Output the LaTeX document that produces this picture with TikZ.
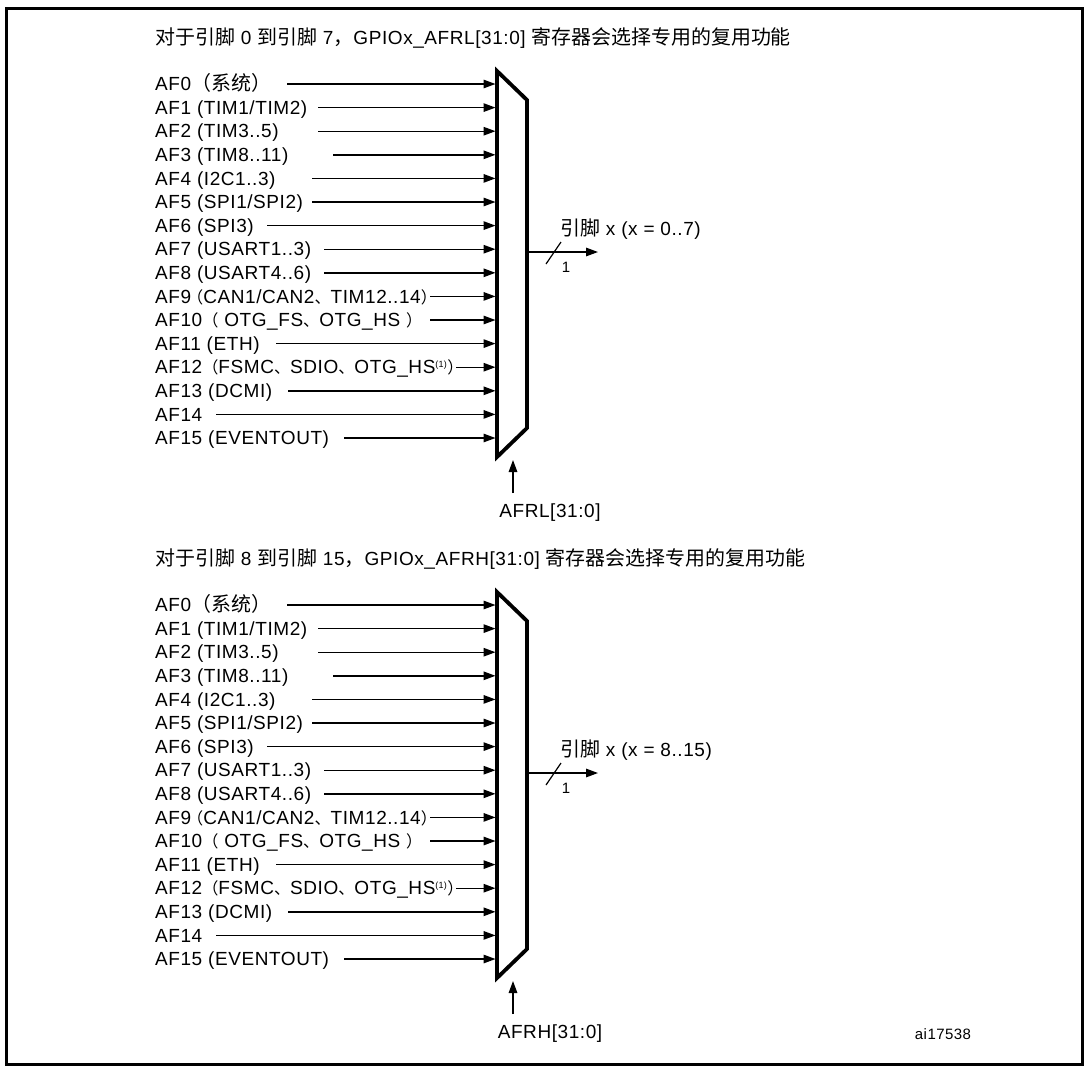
\documentclass[tikz,border=0pt]{standalone}
\usepackage{fontspec}
\setmainfont[LetterSpace=3]{Liberation Sans}
\newfontfamily\cjk[Scale=1.05]{Noto Sans CJK SC}
\newfontfamily\cjkp[Scale=0.85]{Noto Sans CJK SC}
\usetikzlibrary{arrows.meta,calc}
\tikzset{
    sig/.style={-{Triangle[length=12pt,width=8.5pt]}, line width=1.4pt},
    muxshape/.style={line width=3.8pt, line join=miter},
    frame/.style={line width=3pt},
    lbl/.style={anchor=base west, inner sep=0pt, font=\fontsize{19}{21}\selectfont},
    small/.style={anchor=base, inner sep=0pt, font=\fontsize{15}{17}\selectfont},
}

\begin{document}
\begin{tikzpicture}[x=1pt, y=-1pt]

    \useasboundingbox (0,0) rectangle (1087,1072);
    \draw[frame] (6,8) rectangle (1082,1064);

    \foreach \off/\pa/\pb/\reg in {0/0/7/AFRL, 521/8/15/AFRH} {
    \begin{scope}[yshift=-\off pt]
        \node[lbl] (title\reg) at (155,44)
            {{\cjk 对于引脚} \pa{} {\cjk 到引脚} \pb{\cjk ，}GPIOx\_\reg[31:0] {\cjk 寄存器会选择专用的复用功能}};

        % multiplexer
        \draw[muxshape] (497,71) -- (527,100) -- (527,428) -- (497,457) -- cycle;
        \coordinate (muxin) at (495.5,0);

        \foreach \lab/\sx [count=\i from 0] in {
            {AF0{\cjk （系统）}}/287, {AF1 (TIM1/TIM2)}/318, {AF2 (TIM3..5)}/318,
            {AF3 (TIM8..11)}/333, {AF4 (I2C1..3)}/312, {AF5 (SPI1/SPI2)}/312,
            {AF6 (SPI3)}/267, {AF7 (USART1..3)}/324, {AF8 (USART4..6)}/324,
            {AF9\kern-4pt{\cjkp （}CAN1/CAN2{\cjkp 、}TIM12..14{\cjkp ）}}/430,
            {AF10{\cjkp （} OTG\_FS{\cjkp 、}OTG\_HS {\cjkp ）}}/430,
            {AF11 (ETH)}/276,
            {AF12{\cjkp （}FSMC{\cjkp 、}SDIO{\cjkp 、}OTG\_HS\textsuperscript{\fontsize{9}{9}\selectfont(1)}{\cjkp ）}}/456,
            {AF13 (DCMI)}/288, {AF14}/216, {AF15 (EVENTOUT)}/344} {
            \node[lbl] (af\i) at (155,{84+23.6*\i+6.6}) {\lab};
            \coordinate (src\i) at (\sx,{84+23.6*\i});
            \draw[sig] (src\i) -- (src\i -| muxin);
        }

        % output pin
        \coordinate (muxout) at (527,252);
        \coordinate (pinout) at (598,252);
        \draw[sig] (muxout) -- (pinout);
        \draw[line width=1.2pt] (546,264) -- (561,242);
        \node[small] (width\reg) at (566,272) {1};
        \node[lbl] (pin\reg) at (560,235.5) {{\cjk 引脚} x (x = \pa..\pb)};

        % select register
        \node[lbl, anchor=base] (sel\reg) at (550,517) {\reg[31:0]};
        \coordinate (selin) at (513,493);
        \coordinate (selmux) at (513,460);
        \draw[sig] (selin) -- (selmux);
    \end{scope}
    }

    \node[small] (code) at (943,1039) {ai17538};

\end{tikzpicture}
\end{document}
